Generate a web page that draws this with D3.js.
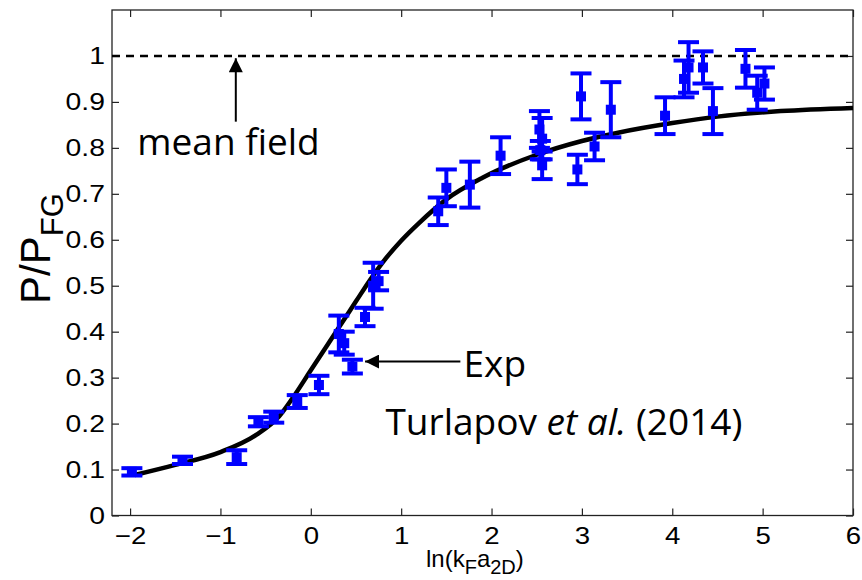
<!DOCTYPE html>
<html>
<head>
<meta charset="utf-8">
<script src="https://cdn.jsdelivr.net/npm/d3@7/dist/d3.min.js"></script>
<style>
  body { margin: 0; background: #fff; }
  svg { display: block; }
  .tick text { font-family: "Liberation Sans", Arial, sans-serif; font-size: 24px; fill: #000; }
  .tick line { stroke: #222; stroke-width: 1.2; }
  .note { font-family: "Open Sans", sans-serif; font-size: 37px; fill: #000; }
  .label { font-family: "Liberation Sans", Arial, sans-serif; fill: #000; }
</style>
</head>
<body>
<svg class="chart"></svg>
<script>
// experiment (Turlapov et al. 2014): x, y and half error bar
const expX = [-1.98, -1.42, -0.82, -0.58, -0.41, -0.15, 0.09, 0.31, 0.37, 0.46, 0.60, 0.69, 0.75,
  1.41, 1.50, 1.76, 2.10, 2.53, 2.56, 2.54, 2.56, 2.95, 2.99, 3.14, 3.32, 3.92,
  4.13, 4.18, 4.34, 4.45, 4.81, 4.94, 5.02];
const expY = [0.095, 0.120, 0.127, 0.204, 0.214, 0.248, 0.284, 0.395, 0.375, 0.324, 0.432, 0.500, 0.510,
  0.662, 0.713, 0.720, 0.783, 0.840, 0.820, 0.795, 0.762, 0.753, 0.912, 0.803, 0.883, 0.870,
  0.950, 0.975, 0.975, 0.880, 0.972, 0.920, 0.940];
const expErr = [0.008, 0.008, 0.015, 0.010, 0.012, 0.014, 0.020, 0.040, 0.025, 0.015, 0.020, 0.050, 0.020,
  0.030, 0.040, 0.050, 0.040, 0.040, 0.045, 0.020, 0.030, 0.032, 0.050, 0.030, 0.060, 0.040,
  0.040, 0.055, 0.035, 0.050, 0.041, 0.037, 0.035];

// theory curve
const curveX = [-1.95, -1.5, -1.0, -0.6, -0.35, -0.2, 0.0, 0.2, 0.35, 0.5, 0.65, 0.8, 1.0,
  1.2, 1.5, 1.9, 2.5, 3.0, 3.4, 4.0, 4.5, 5.2, 6.0];
const curveY = [0.088, 0.110, 0.138, 0.176, 0.216, 0.256, 0.316, 0.376, 0.421, 0.466, 0.511, 0.552, 0.598,
  0.637, 0.688, 0.735, 0.785, 0.815, 0.833, 0.854, 0.868, 0.880, 0.887];

const xTicks = [-2, -1, 0, 1, 2, 3, 4, 5, 6];
const yTicks = [0, 0.1, 0.2, 0.3, 0.4, 0.5, 0.6, 0.7, 0.8, 0.9, 1];
const meanField = 1;

const margin = {top: 10, right: 9, bottom: 64.5, left: 112};
const width = 862 - margin.left - margin.right;
const height = 580 - margin.top - margin.bottom;

const x = d3.scaleLinear()
    .domain([-2.2, 6])
    .range([0, width]);

const y = d3.scaleLinear()
    .domain([0, 1.1])
    .range([height, 0]);

const svg = d3.select('.chart')
    .attr('width', 862)
    .attr('height', 580);

const chart = svg.append('g')
    .attr('transform', `translate(${ margin.left },${ margin.top })`);

const tickLen = 7;

// axes, MATLAB style: ticks pointing inside on all four sides
const xAxis = chart.append('g')
    .attr('transform', `translate(0,${ height })`)
    .call(d3.axisBottom(x).tickValues(xTicks).tickSizeInner(-tickLen).tickSizeOuter(0).tickPadding(11));

chart.append('g')
    .call(d3.axisTop(x).tickValues(xTicks).tickSizeInner(-tickLen).tickSizeOuter(0).tickFormat(''));

const yAxis = chart.append('g')
    .call(d3.axisLeft(y).tickValues(yTicks).tickSizeInner(-tickLen).tickSizeOuter(0).tickPadding(6)
      .tickFormat(d3.format('~g')));

chart.append('g')
    .attr('transform', `translate(${ width },0)`)
    .call(d3.axisRight(y).tickValues(yTicks).tickSizeInner(-tickLen).tickSizeOuter(0).tickFormat(''));

chart.selectAll('.domain').remove();

yAxis.selectAll('.tick text').attr('transform', 'scale(1.18,1)');
xAxis.selectAll('.tick text').attr('transform', 'scale(1.15,1)');

// frame
chart.append('rect')
    .attr('width', width)
    .attr('height', height)
    .attr('fill', 'none')
    .attr('stroke', '#222')
    .attr('stroke-width', 1.3);

// mean field line
chart.append('line')
    .attr('x1', 0)
    .attr('x2', width)
    .attr('y1', y(meanField))
    .attr('y2', y(meanField))
    .attr('stroke', '#000')
    .attr('stroke-width', 2.5)
    .attr('stroke-dasharray', '8,6');

// theory
const line = d3.line()
    .x((d, i) => x(curveX[i]))
    .y((d) => y(d))
    .curve(d3.curveMonotoneX);

chart.append('path')
    .datum(curveY)
    .attr('d', line)
    .attr('fill', 'none')
    .attr('stroke', '#000')
    .attr('stroke-width', 4.5);

// error bars
const capW = 10.5;
const bars = chart.selectAll('.err')
    .data(expX)
  .enter().append('g')
    .attr('class', 'err')
    .attr('stroke', '#0000ff')
    .attr('stroke-width', 4);

bars.append('line')
    .attr('x1', (d) => x(d))
    .attr('x2', (d) => x(d))
    .attr('y1', (d, i) => y(expY[i] - expErr[i]))
    .attr('y2', (d, i) => y(expY[i] + expErr[i]));

bars.append('line')
    .attr('x1', (d) => x(d) - capW)
    .attr('x2', (d) => x(d) + capW)
    .attr('y1', (d, i) => y(expY[i] + expErr[i]))
    .attr('y2', (d, i) => y(expY[i] + expErr[i]));

bars.append('line')
    .attr('x1', (d) => x(d) - capW)
    .attr('x2', (d) => x(d) + capW)
    .attr('y1', (d, i) => y(expY[i] - expErr[i]))
    .attr('y2', (d, i) => y(expY[i] - expErr[i]));

bars.append('rect')
    .attr('x', (d) => x(d) - 5)
    .attr('y', (d, i) => y(expY[i]) - 5)
    .attr('width', 10)
    .attr('height', 10)
    .attr('fill', '#0000ff')
    .attr('stroke', 'none');

// arrows
svg.append('defs').append('marker')
    .attr('id', 'head')
    .attr('viewBox', '0 0 10 10')
    .attr('refX', 10)
    .attr('refY', 5)
    .attr('markerUnits', 'userSpaceOnUse')
    .attr('markerWidth', 15)
    .attr('markerHeight', 14)
    .attr('orient', 'auto')
  .append('path')
    .attr('d', 'M0,0L10,5L0,10Z')
    .attr('fill', '#000');

chart.append('line')
    .attr('x1', x(-0.83)).attr('y1', y(0.857))
    .attr('x2', x(-0.83)).attr('y2', y(0.995))
    .attr('stroke', '#000').attr('stroke-width', 2)
    .attr('marker-end', 'url(#head)');

chart.append('text')
    .attr('class', 'note')
    .attr('x', x(-1.92))
    .attr('y', y(0.785))
    .text('mean field');

chart.append('line')
    .attr('x1', x(1.655)).attr('y1', y(0.335))
    .attr('x2', x(0.60)).attr('y2', y(0.335))
    .attr('stroke', '#000').attr('stroke-width', 2)
    .attr('marker-end', 'url(#head)');

chart.append('text')
    .attr('class', 'note')
    .attr('x', x(1.69))
    .attr('y', y(0.302))
    .text('Exp');

const cite = chart.append('text')
    .attr('class', 'note')
    .attr('x', x(0.826))
    .attr('y', y(0.175));
cite.append('tspan').text('Turlapov ');
cite.append('tspan').attr('font-style', 'italic').text('et al.');
cite.append('tspan').text(' (2014)');

// axis titles
const xTitle = svg.append('text')
    .attr('class', 'label')
    .attr('x', 426)
    .attr('y', 567)
    .attr('font-size', 24);
xTitle.append('tspan').text('ln(k');
xTitle.append('tspan').attr('dy', 7).attr('font-size', 20).text('F');
xTitle.append('tspan').attr('dy', -7).text('a');
xTitle.append('tspan').attr('dy', 7).attr('font-size', 20).text('2D');
xTitle.append('tspan').attr('dy', -7).text(')');

const yTitle = svg.append('text')
    .attr('class', 'label')
    .attr('transform', 'translate(50,304) rotate(-90)')
    .attr('font-size', 42);
yTitle.append('tspan').text('P/P');
yTitle.append('tspan').attr('dy', 13).attr('font-size', 31).text('FG');
</script>
</body>
</html>
